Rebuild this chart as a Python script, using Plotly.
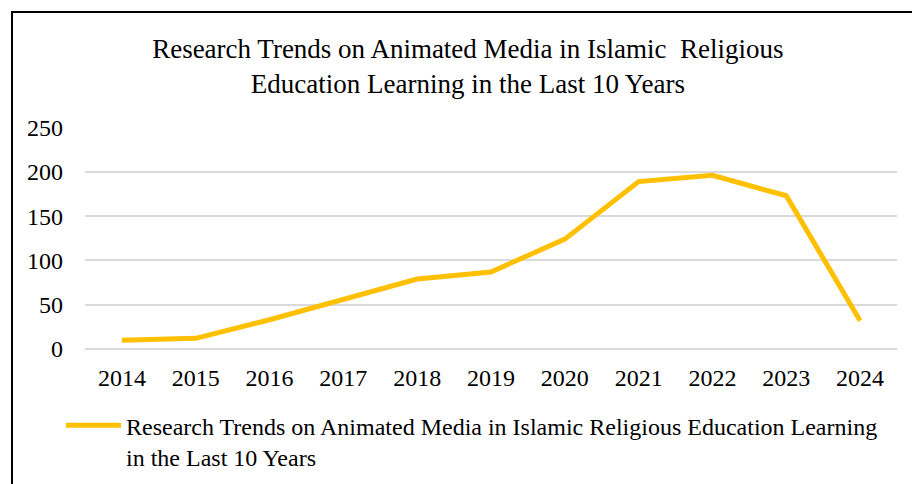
import plotly.graph_objects as go

years = ["2014", "2015", "2016", "2017", "2018", "2019", "2020", "2021", "2022", "2023", "2024"]
counts = [10, 12, 33, 56, 79, 87, 124, 189, 196, 173, 32]
series_name = "Research Trends on Animated Media in Islamic Religious Education Learning<br>in the Last 10 Years"
title_text = "Research Trends on Animated Media in Islamic  Religious<br>Education Learning in the Last 10 Years"
y_ticks = [0, 50, 100, 150, 200, 250]

W, H = 912, 484
ML, MR, MT, MB = 85, 15, 127, 135
FONT = "Liberation Serif, Times New Roman, serif"

fig = go.Figure()
fig.add_trace(go.Scatter(
    x=years, y=counts, mode="lines", name=series_name,
    line=dict(color="#FFC000", width=5, shape="linear"),
    showlegend=True,
))

pw = W - ML - MR
ph = H - MT - MB
fig.add_shape(type="rect", xref="paper", yref="paper",
              x0=(12 - ML) / pw, x1=(W + 20 - ML) / pw,
              y0=-(H + 20 - MT - ph) / ph, y1=1 + (MT - 12) / ph,
              line=dict(color="#000000", width=2), layer="above")

fig.update_layout(
    width=W, height=H,
    margin=dict(l=ML, r=MR, t=MT, b=MB, autoexpand=False),
    paper_bgcolor="white", plot_bgcolor="white",
    font=dict(family=FONT, color="#000000", size=24),
    title=dict(text=title_text, x=0.513, xanchor="center", y=0.88, yanchor="middle",
               font=dict(family=FONT, size=27, color="#000000")),
    xaxis=dict(type="category", range=[-0.5, 10.5], showgrid=False, showline=False,
               ticks="", tickfont=dict(size=24), ticklabelstandoff=12),
    yaxis=dict(range=[0, 250.6], tickvals=y_ticks, showgrid=True, gridcolor="#d9d9d9",
               gridwidth=1.5, zeroline=True, zerolinecolor="#d9d9d9", zerolinewidth=1.5,
               showline=False, ticks="", tickfont=dict(size=24), ticklabelstandoff=21),
    legend=dict(orientation="h", x=(61 - ML) / pw, xanchor="left", y=-0.244, yanchor="top",
                font=dict(size=24), itemwidth=55, valign="top", bgcolor="rgba(0,0,0,0)"),
    showlegend=True,
)

fig.write_html("out.html")
